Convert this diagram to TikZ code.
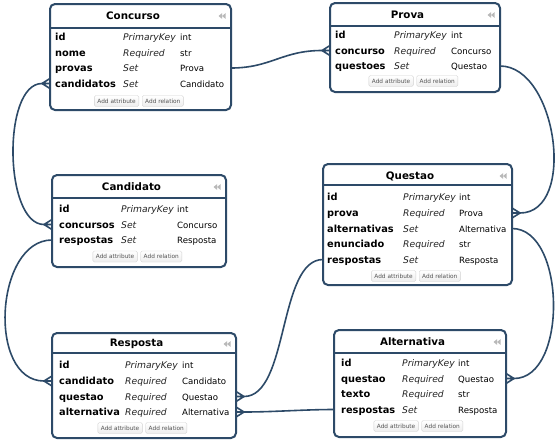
\documentclass[tikz,border=0pt]{standalone}
\usepackage{fontspec}
\setmainfont{DejaVu Sans}
\definecolor{navy}{HTML}{2D4A68}
\definecolor{btntext}{HTML}{555555}
\tikzset{
  entbox/.style={draw=navy, line width=2pt, rounded corners=5pt, fill=white, inner sep=0pt, outer sep=0pt, anchor=north west},
  sepline/.style={draw=navy, line width=1.5pt},
  titletext/.style={font=\fontsize{10.3}{12}\selectfont\bfseries, text=black, inner sep=0pt},
  nametext/.style={font=\fontsize{9.8}{11}\selectfont\bfseries, inner sep=0pt, anchor=base west},
  kindtext/.style={font=\fontsize{9.2}{11}\selectfont\itshape, inner sep=0pt, anchor=base west, text=black!85},
  typetext/.style={font=\fontsize{8.6}{11}\selectfont, inner sep=0pt, anchor=base west},
  btn/.style={draw=gray!35, top color=white, bottom color=gray!14, rounded corners=1.5pt, minimum height=11pt, inner xsep=3pt, inner ysep=0pt, font=\fontsize{5.8}{7}\selectfont, text=btntext},
  conn/.style={draw=navy, line width=1.6pt, line join=round},
  iconfill/.style={fill=gray!55, draw=none},
}
% #1 id, #2 title, #3 left, #4 top, #5 right, #6 bottom, #7 separator y, #8 title y
\newcommand{\entity}[8]{%
  \node[entbox, minimum width={#5pt-#3pt}, minimum height={#6pt-#4pt}] (#1) at (#3,#4) {};
  \draw[sepline] (#3,#7) -- (#5,#7);
  \node[titletext] (#1-title) at ({(#3+#5)/2-7.5},#8) {#2};
  \fill[iconfill] (#5-12.5,#8) -- ++(3.5,-2.8) -- ++(0,5.6) -- cycle;
  \fill[iconfill] (#5-9,#8) -- ++(3.5,-2.8) -- ++(0,5.6) -- cycle;
}
% #1 id, #2 y, #3 name x, #4 name, #5 kind x, #6 kind, #7 type x, #8 type
\newcommand{\erow}[8]{%
  \node[nametext] (#1) at (#3,#2+3.5) {#4};
  \node[kindtext] (#1-k) at (#5,#2+3.5) {#6};
  \node[typetext] (#1-t) at (#7,#2+3.5) {#8};
  \coordinate (#1-y) at (#3,#2);
}
% #1 id, #2 center x, #3 y
\newcommand{\ebtns}[3]{%
  \node[btn, anchor=east] (#1-ba) at (#2-1.5,#3) {Add attribute};
  \node[btn, anchor=west] (#1-br) at (#2+1.5,#3) {Add relation};
}
% crow's foot: #1 tip name, #2 edge coordinate name, #3 direction (-1 west, +1 east)
\newcommand{\crow}[3]{%
  \coordinate (#1) at ([xshift=#3*8pt]#2);
  \draw[conn] (#1) -- ([yshift=5pt]#2) (#1) -- (#2) (#1) -- ([yshift=-5pt]#2);
}
\begin{document}
\begin{tikzpicture}[x=1pt,y=-1pt]
\fill[white] (0,0) rectangle (559,445);
\useasboundingbox (0,0) rectangle (559,445);

% Concurso
\entity{concurso}{Concurso}{50}{4}{231}{110}{28}{16}
\erow{c-id}{37}{55}{id}{123}{PrimaryKey}{180}{int}
\erow{c-nome}{53}{55}{nome}{123}{Required}{180}{str}
\erow{c-provas}{68}{55}{provas}{123}{Set}{180}{Prova}
\erow{c-cand}{83.5}{55}{candidatos}{123}{Set}{180}{Candidato}
\ebtns{concurso}{140.5}{101}

% Prova
\entity{prova}{Prova}{330}{3}{500}{92}{26}{15}
\erow{p-id}{35}{335}{id}{394}{PrimaryKey}{451}{int}
\erow{p-conc}{50.5}{335}{concurso}{394}{Required}{451}{Concurso}
\erow{p-quest}{66}{335}{questoes}{394}{Set}{451}{Questao}
\ebtns{prova}{415}{81}

% Candidato
\entity{candidato}{Candidato}{52}{175}{226}{267}{198}{187}
\erow{d-id}{209}{59}{id}{121}{PrimaryKey}{177}{int}
\erow{d-conc}{224.5}{59}{concursos}{121}{Set}{177}{Concurso}
\erow{d-resp}{240}{59}{respostas}{121}{Set}{177}{Resposta}
\ebtns{candidato}{139}{256.5}

% Questao
\entity{questao}{Questao}{323}{164}{512}{285}{185}{176}
\erow{q-id}{197}{327}{id}{403}{PrimaryKey}{459}{int}
\erow{q-prova}{213}{327}{prova}{403}{Required}{459}{Prova}
\erow{q-alt}{228.5}{327}{alternativas}{403}{Set}{459}{Alternativa}
\erow{q-enun}{244}{327}{enunciado}{403}{Required}{459}{str}
\erow{q-resp}{259.5}{327}{respostas}{403}{Set}{459}{Resposta}
\ebtns{questao}{417.5}{276}

% Resposta
\entity{resposta}{Resposta}{52}{333}{236}{438}{353}{344}
\erow{r-id}{365}{59}{id}{125}{PrimaryKey}{182}{int}
\erow{r-cand}{381}{59}{candidato}{125}{Required}{182}{Candidato}
\erow{r-quest}{396.5}{59}{questao}{125}{Required}{182}{Questao}
\erow{r-alt}{412}{59}{alternativa}{125}{Required}{182}{Alternativa}
\ebtns{resposta}{144}{428}

% Alternativa
\entity{alternativa}{Alternativa}{334}{330}{506}{437}{353}{342}
\erow{a-id}{363}{341}{id}{402}{PrimaryKey}{458}{int}
\erow{a-quest}{378.5}{341}{questao}{402}{Required}{458}{Questao}
\erow{a-texto}{394}{341}{texto}{402}{Required}{458}{str}
\erow{a-resp}{409.5}{341}{respostas}{402}{Set}{458}{Resposta}
\ebtns{alternativa}{420}{426}

% connection points
\coordinate (e-cprov) at (concurso.east |- c-provas-y);
\coordinate (e-ccand) at (concurso.west |- c-cand-y);
\coordinate (e-pconc) at (prova.west |- p-conc-y);
\coordinate (e-pquest) at (prova.east |- p-quest-y);
\coordinate (e-dconc) at (candidato.west |- d-conc-y);
\coordinate (e-dresp) at (candidato.west |- d-resp-y);
\coordinate (e-qprova) at (questao.east |- q-prova-y);
\coordinate (e-qalt) at (questao.east |- q-alt-y);
\coordinate (e-qresp) at (questao.west |- q-resp-y);
\coordinate (e-rcand) at (resposta.west |- r-cand-y);
\coordinate (e-rquest) at (resposta.east |- r-quest-y);
\coordinate (e-ralt) at (resposta.east |- r-alt-y);
\coordinate (e-aquest) at (alternativa.east |- a-quest-y);
\coordinate (e-aresp) at (alternativa.west |- a-resp-y);

% crow's feet
\crow{t-pconc}{e-pconc}{-1}
\crow{t-ccand}{e-ccand}{-1}
\crow{t-dconc}{e-dconc}{-1}
\crow{t-rcand}{e-rcand}{-1}
\crow{t-qprova}{e-qprova}{1}
\crow{t-aquest}{e-aquest}{1}
\crow{t-rquest}{e-rquest}{1}
\crow{t-ralt}{e-ralt}{1}

% connectors
\draw[conn] (e-cprov) .. controls +(40,0) and +(-40,0) .. (t-pconc);
\draw[conn] (t-ccand) .. controls +(-40,0) and +(-40,0) .. (t-dconc);
\draw[conn] (e-dresp) .. controls +(-57,0) and +(-57,0) .. (t-rcand);
\draw[conn] (e-pquest) .. controls +(57,0) and +(57,0) .. (t-qprova);
\draw[conn] (e-qalt) .. controls +(54,0) and +(54,0) .. (t-aquest);
\draw[conn] (e-qresp) .. controls +(-45,0) and +(45,0) .. (t-rquest);
\draw[conn] (e-aresp) .. controls +(-30,0) and +(30,0) .. (t-ralt);
\end{tikzpicture}
\end{document}
